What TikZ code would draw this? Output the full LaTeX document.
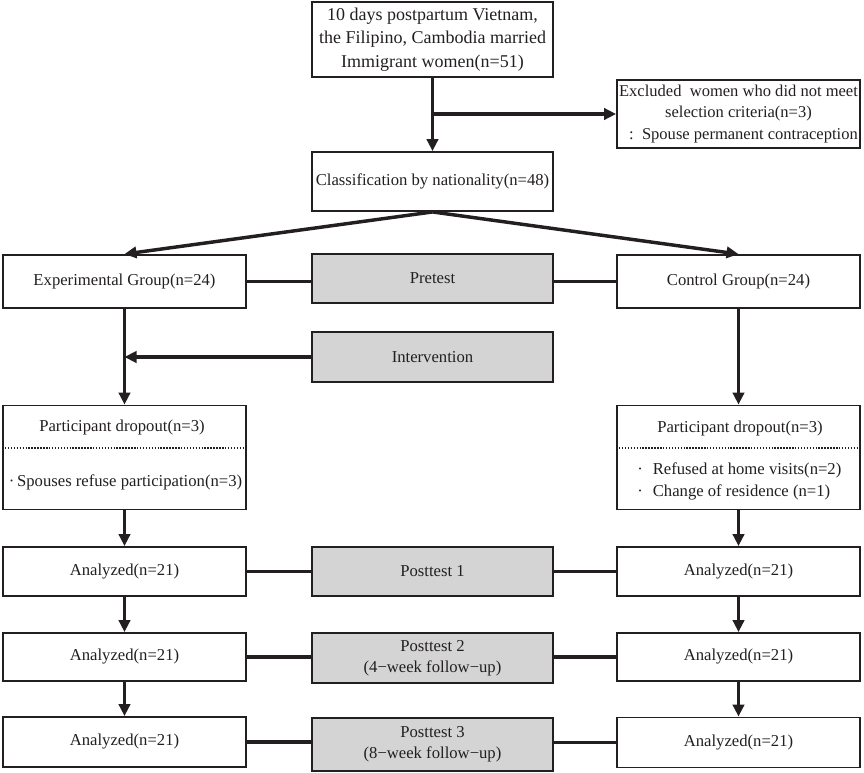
\documentclass[tikz,border=0pt]{standalone}
\usepackage{fontspec}
\setmainfont{Liberation Serif}
\usetikzlibrary{arrows.meta}
\definecolor{ink}{HTML}{231F20}
\definecolor{shade}{HTML}{D4D4D4}

\begin{document}
\begin{tikzpicture}[x=0.75pt, y=-0.75pt,
    box/.style={draw=ink, line width=1.4pt, inner sep=0pt, text=ink, align=center,
        font=\fontsize{12.5}{16}\selectfont, minimum width=182.25pt},
    gbox/.style={box, fill=shade, minimum width=180.75pt},
    txt/.style={inner sep=0pt, text=ink, font=\fontsize{12.5}{16.5}\selectfont},
    link/.style={draw=ink, line width=2.6pt},
    arr/.style={link, -{Triangle[length=9pt,width=8.5pt]}}]
    \useasboundingbox (0,0) rectangle (864,772);

    % enrolment
    \node[box, minimum width=180.75pt, minimum height=56.25pt,
        font=\fontsize{13.5}{17.6}\selectfont] (top) at (432.5,39.5)
        {10 days postpartum Vietnam,\\the Filipino, Cambodia married\\Immigrant women(n=51)};
    \node[box, minimum height=51pt, font=\fontsize{12.4}{16}\selectfont] (excl) at (738.5,114)
        {Excluded~ women who did not meet\\selection criteria(n=3)\\
         \hspace*{0.6em}:\hspace{0.5em}Spouse permanent contraception};
    \node[box, minimum width=180.75pt, minimum height=44.25pt] (class) at (432.5,181.5)
        {Classification by nationality(n=48)};

    % groups
    \node[box, minimum height=39.75pt] (exp) at (124.5,281.5) {Experimental Group(n=24)};
    \node[box, minimum height=39.75pt] (ctrl) at (738.5,281.5) {Control Group(n=24)};
    \node[gbox, minimum height=36.75pt] (pre) at (432.5,278.5) {Pretest};
    \node[gbox, minimum height=37.5pt] (interv) at (432.5,357) {Intervention};

    % dropout
    \node[box, minimum height=78pt] (dropL) at (124.5,457.5) {};
    \node[box, minimum height=78pt] (dropR) at (738.5,457.5) {};
    \node[txt] (dropLhead) at (122,427) {Participant dropout(n=3)};
    \node[txt] (dropRhead) at (740,428) {Participant dropout(n=3)};
    \draw[ink, line width=1pt, dash pattern=on 1.1pt off 1.1pt] (5,448) -- (244,448);
    \draw[ink, line width=1pt, dash pattern=on 1.1pt off 1.1pt] (619,448) -- (858,448);
    \node[txt] (dropLwhy) at (125.5,482) {·\,Spouses refuse participation(n=3)};
    \node[txt, anchor=west, align=left] (dropRwhy) at (637,481)
        {·\hspace{0.6em}Refused at home visits(n=2)\\·\hspace{0.6em}Change of residence (n=1)};

    % analysis
    \node[box, minimum height=36.75pt] (anaL1) at (124.5,571.5) {Analyzed(n=21)};
    \node[box, minimum height=36.75pt] (anaR1) at (738.5,571.5) {Analyzed(n=21)};
    \node[gbox, minimum height=36.75pt] (post1) at (432.5,571.5) {Posttest 1};
    \node[box, minimum height=36pt] (anaL2) at (124.5,657) {Analyzed(n=21)};
    \node[box, minimum height=36pt] (anaR2) at (738.5,657) {Analyzed(n=21)};
    \node[gbox, minimum height=37.5pt] (post2) at (432.5,658) {Posttest 2\\(4−week follow−up)};
    \node[box, minimum height=37.5pt] (anaL3) at (124.5,742) {Analyzed(n=21)};
    \node[box, minimum height=37.5pt] (anaR3) at (738.5,742.5) {Analyzed(n=21)};
    \node[gbox, minimum height=39.75pt] (post3) at (432.5,744.5) {Posttest 3\\(8−week follow−up)};

    % connectors
    \draw[arr] (top.south) -- (class.north);
    \draw[arr] (top.south |- excl.west) -- (excl.west);
    \draw[arr] (class.south) -- (exp.north);
    \draw[arr] (class.south) -- (ctrl.north);
    \draw[link] (exp.east) -- (exp.east -| pre.west);
    \draw[link] (ctrl.west -| pre.east) -- (ctrl.west);
    \coordinate (join) at (exp.south |- interv.west);
    \draw[arr] (interv.west) -- (join);
    \draw[arr] (exp.south) -- (dropL.north);
    \draw[arr] (ctrl.south) -- (dropR.north);
    \draw[arr] (dropL.south) -- (anaL1.north);
    \draw[arr] (dropR.south) -- (anaR1.north);
    \draw[arr] (anaL1.south) -- (anaL2.north);
    \draw[arr] (anaR1.south) -- (anaR2.north);
    \draw[arr] (anaL2.south) -- (anaL3.north);
    \draw[arr] (anaR2.south) -- (anaR3.north);
    \foreach \i in {1,2,3}{
        \draw[link] (anaL\i.east) -- (anaL\i.east -| post\i.west);
        \draw[link] (anaR\i.west -| post\i.east) -- (anaR\i.west);
    }
\end{tikzpicture}
\end{document}
